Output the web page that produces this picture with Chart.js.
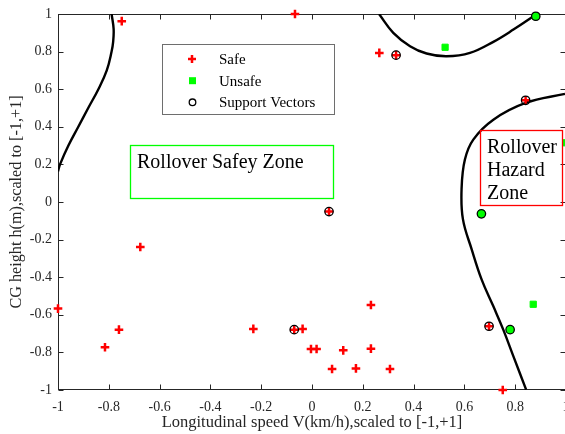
<!DOCTYPE html>
<html>
<head>
<meta charset="utf-8">
<script src="https://cdn.jsdelivr.net/npm/chart.js@4"></script>
<style>
  html, body { margin: 0; padding: 0; overflow: hidden; background: #fff; }
  #wrap { width: 567px; height: 434px; }
</style>
</head>
<body>
<div id="wrap"><canvas id="svmChart"></canvas></div>
<script>
// samples, scaled to [-1,+1]
const safeX = [-0.749, -0.067, 0.265, 0.331, 0.841, 0.067, -1.0, -0.815, -0.760, -0.676, -0.231, -0.070,
  -0.037, 0.232, -0.004, 0.018, 0.123, 0.232, 0.079, 0.173, 0.307, 0.697, 0.751];
const safeY = [0.962, 1.0, 0.793, 0.781, 0.541, -0.051, -0.567, -0.773, -0.679, -0.239, -0.675, -0.679,
  -0.675, -0.548, -0.782, -0.782, -0.789, -0.780, -0.888, -0.885, -0.888, -0.661, -1.0];

const unsafeX = [0.524, 0.881, 1.0, 0.667, 0.871, 0.780];
const unsafeY = [0.823, 0.988, 0.315, -0.063, -0.544, -0.679];

// support vectors (S = safe, U = unsafe)
const svX = [0.331, 0.841, 0.067, -0.070, 0.697, 0.881, 0.667, 0.780];
const svY = [0.781, 0.541, -0.051, -0.679, -0.661, 0.988, -0.063, -0.679];
const svClass = ['S', 'S', 'S', 'S', 'S', 'U', 'U', 'U'];

// decision boundary
const bndLeftX = [-0.789, -0.781, -0.783, -0.789, -0.808, -0.841, -0.881, -0.920, -0.959, -0.992, -1.0];
const bndLeftY = [1.0, 0.92, 0.85, 0.8, 0.7, 0.6, 0.5, 0.4, 0.3, 0.2, 0.163];
const bndTopX = [0.264, 0.320, 0.386, 0.451, 0.530, 0.622, 0.714, 0.793, 0.885];
const bndTopY = [1.0, 0.9, 0.829, 0.790, 0.775, 0.793, 0.852, 0.917, 1.0];
const bndRightX = [0.996, 0.841, 0.714, 0.635, 0.602, 0.589, 0.594, 0.629, 0.668, 0.714, 0.753, 0.793, 0.843];
const bndRightY = [0.575, 0.527, 0.438, 0.332, 0.226, 0.074, -0.090, -0.253, -0.413, -0.555, -0.679, -0.821, -0.998];

const xTicks = [-1, -0.8, -0.6, -0.4, -0.2, 0, 0.2, 0.4, 0.6, 0.8, 1];
const yTicks = [-1, -0.8, -0.6, -0.4, -0.2, 0, 0.2, 0.4, 0.6, 0.8, 1];

const legendLabels = ['Safe', 'Unsafe', 'Support Vectors'];

const pts = (xs, ys) => xs.map((v, i) => ({ x: v, y: ys[i] }));
const fmt = v => String(Number(v.toFixed(1)));

const axisColor = '#262626';
const serif = '"Liberation Serif", "Times New Roman", serif';
const red = '#ff0000';
const green = '#00ff00';

// MATLAB style box with inward ticks
const frame = {
  id: 'frame',
  beforeDatasetsDraw(chart) {
    const { ctx, chartArea: a, scales: { x, y } } = chart;
    const L = Math.round(a.left) + 0.5, R = Math.round(a.right) - 0.5;
    const T = Math.round(a.top) + 0.5, B = Math.round(a.bottom) - 0.5;
    ctx.save();
    ctx.strokeStyle = axisColor;
    ctx.lineWidth = 1;
    ctx.strokeRect(L, T, R - L, B - T);
    ctx.beginPath();
    xTicks.forEach(v => {
      const p = Math.round(x.getPixelForValue(v)) + 0.5;
      ctx.moveTo(p, B); ctx.lineTo(p, B - 5);
      ctx.moveTo(p, T); ctx.lineTo(p, T + 5);
    });
    yTicks.forEach(v => {
      const p = Math.round(y.getPixelForValue(v)) + 0.5;
      ctx.moveTo(L, p); ctx.lineTo(L + 5, p);
      ctx.moveTo(R, p); ctx.lineTo(R - 5, p);
    });
    ctx.stroke();
    ctx.restore();
  }
};

// legend box and the two zone labels
const notes = {
  id: 'notes',
  afterDraw(chart) {
    const ctx = chart.ctx;
    ctx.save();

    // legend
    ctx.fillStyle = '#fff';
    ctx.fillRect(162.5, 44.5, 172, 70);
    ctx.strokeStyle = '#6e6e6e';
    ctx.lineWidth = 1;
    ctx.strokeRect(162.5, 44.5, 172, 70);
    const rows = [59, 80.7, 102.3];
    ctx.font = '15px ' + serif;
    ctx.fillStyle = '#000';
    ctx.textBaseline = 'middle';
    legendLabels.forEach((t, i) => ctx.fillText(t, 219, rows[i] + 1));
    ctx.strokeStyle = red;
    ctx.lineWidth = 2.5;
    ctx.beginPath();
    ctx.moveTo(188, rows[0]); ctx.lineTo(196, rows[0]);
    ctx.moveTo(192, rows[0] - 4); ctx.lineTo(192, rows[0] + 4);
    ctx.stroke();
    ctx.fillStyle = green;
    ctx.fillRect(189, rows[1] - 3.5, 7, 7);
    ctx.strokeStyle = '#000';
    ctx.lineWidth = 1.3;
    ctx.beginPath();
    ctx.arc(192.5, rows[2], 3.3, 0, Math.PI * 2);
    ctx.stroke();

    // safe zone
    ctx.strokeStyle = green;
    ctx.lineWidth = 1.3;
    ctx.strokeRect(130.5, 145.5, 203, 53);
    ctx.fillStyle = '#000';
    ctx.font = '20px ' + serif;
    ctx.textBaseline = 'alphabetic';
    ctx.fillText('Rollover Safey Zone', 137, 167.5);

    // hazard zone
    ctx.strokeStyle = red;
    ctx.strokeRect(480.5, 130.5, 82, 75);
    ['Rollover', 'Hazard', 'Zone'].forEach((t, i) => ctx.fillText(t, 487, 152.7 + i * 23.3));

    ctx.restore();
  }
};

const boundaryStyle = {
  showLine: true,
  borderColor: '#000',
  borderWidth: 2.4,
  pointRadius: 0,
  tension: 0.4,
  order: 4
};

const ctxSvm = document.getElementById('svmChart').getContext('2d');

new Chart(ctxSvm, {
  type: 'scatter',
  data: {
    datasets: [
      {
        label: 'Support Vectors',
        data: pts(svX, svY),
        pointStyle: 'circle',
        pointRadius: 4.2,
        borderColor: '#000',
        borderWidth: 1.3,
        backgroundColor: c => svClass[c.dataIndex] === 'U' ? green : 'rgba(0,0,0,0)',
        clip: false,
        order: 1
      },
      {
        label: 'Safe',
        data: pts(safeX, safeY),
        pointStyle: 'cross',
        pointRadius: 4.3,
        borderColor: red,
        borderWidth: 2.5,
        clip: false,
        order: 2
      },
      {
        label: 'Unsafe',
        data: pts(unsafeX, unsafeY),
        pointStyle: 'rect',
        pointRadius: 4.4,
        backgroundColor: green,
        borderColor: green,
        borderWidth: 1,
        clip: false,
        order: 3
      },
      { label: 'b1', data: pts(bndLeftX, bndLeftY), ...boundaryStyle },
      { label: 'b2', data: pts(bndTopX, bndTopY), ...boundaryStyle },
      { label: 'b3', data: pts(bndRightX, bndRightY), ...boundaryStyle }
    ]
  },
  options: {
    responsive: true,
    maintainAspectRatio: false,
    animation: false,
    layout: { autoPadding: false, padding: { top: 14, right: 1, left: 0, bottom: 0 } },
    plugins: {
      legend: { display: false },
      tooltip: { enabled: false }
    },
    scales: {
      x: {
        type: 'linear',
        min: -1,
        max: 1,
        afterBuildTicks: s => { s.ticks = xTicks.map(v => ({ value: v })); },
        afterFit: s => { s.height = 44; s.paddingLeft = 0; s.paddingRight = 0; },
        grid: { display: false, drawTicks: false },
        border: { display: false },
        ticks: {
          autoSkip: false,
          maxRotation: 0,
          padding: 9,
          color: axisColor,
          font: { family: serif, size: 14 },
          callback: v => fmt(v)
        },
        title: {
          display: true,
          text: 'Longitudinal speed V(km/h),scaled to [-1,+1]',
          color: axisColor,
          font: { family: serif, size: 16.5 },
          padding: { top: 0, bottom: 1 }
        }
      },
      y: {
        type: 'linear',
        min: -1,
        max: 1,
        afterBuildTicks: s => { s.ticks = yTicks.map(v => ({ value: v })); },
        afterFit: s => { s.width = 58; s.paddingTop = 0; s.paddingBottom = 0; },
        grid: { display: false, drawTicks: false },
        border: { display: false },
        ticks: {
          autoSkip: false,
          padding: 6,
          color: axisColor,
          font: { family: serif, size: 14 },
          callback: v => fmt(v)
        },
        title: {
          display: true,
          text: 'CG height h(m),scaled to [-1,+1]',
          color: axisColor,
          font: { family: serif, size: 16.2 },
          padding: { top: 7.5, bottom: 0 }
        }
      }
    }
  },
  plugins: [frame, notes]
});
</script>
</body>
</html>
